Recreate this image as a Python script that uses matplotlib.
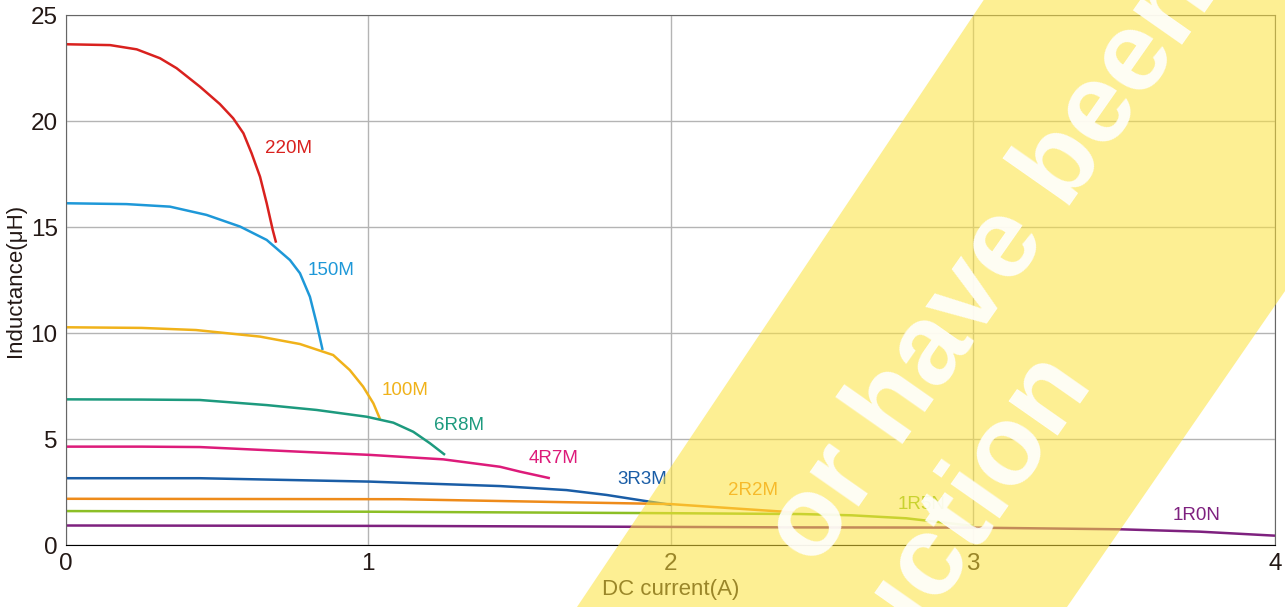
import matplotlib
matplotlib.use("Agg")
import matplotlib.pyplot as plt
from matplotlib.patches import Polygon

plt.rcParams["font.family"] = ["Liberation Sans", "DejaVu Sans"]

# inductance vs DC current
names = ["220M", "150M", "100M", "6R8M", "4R7M", "3R3M", "2R2M", "1R5N", "1R0N"]
colors = ["#D9211E", "#1E98D8", "#F0B21A", "#1D9A7E", "#DD1B7A",
          "#1A5DA6", "#EE8B1A", "#8CBF26", "#7E217F"]

x_220 = [0, 0.146, 0.234, 0.311, 0.366, 0.443, 0.509, 0.553, 0.587, 0.614,
         0.642, 0.664, 0.684, 0.695]
y_220 = [23.62, 23.58, 23.38, 22.96, 22.49, 21.62, 20.8, 20.13, 19.42, 18.48,
         17.37, 16.12, 14.86, 14.26]
x_150 = [0, 0.2, 0.344, 0.465, 0.576, 0.664, 0.741, 0.774, 0.807, 0.829, 0.849]
y_150 = [16.12, 16.08, 15.96, 15.57, 15.02, 14.39, 13.44, 12.82, 11.71, 10.46, 9.2]
x_100 = [0, 0.25, 0.43, 0.642, 0.774, 0.884, 0.939, 0.983, 1.017, 1.039]
y_100 = [10.27, 10.24, 10.14, 9.83, 9.48, 8.96, 8.25, 7.47, 6.68, 5.94]
x_6r8 = [0, 0.25, 0.443, 0.664, 0.829, 0.995, 1.083, 1.149, 1.204, 1.254]
y_6r8 = [6.87, 6.86, 6.84, 6.6, 6.37, 6.05, 5.77, 5.34, 4.8, 4.25]
x_4r7 = [0, 0.25, 0.443, 0.774, 1.006, 1.248, 1.436, 1.502, 1.601]
y_4r7 = [4.64, 4.64, 4.62, 4.4, 4.25, 4.04, 3.69, 3.46, 3.15]
x_3r3 = [0, 0.443, 1.006, 1.105, 1.436, 1.656, 1.789, 1.91, 2.003]
y_3r3 = [3.15, 3.15, 2.99, 2.94, 2.78, 2.59, 2.36, 2.09, 1.89]
x_2r2 = [0, 1.105, 2.0, 2.207, 2.406]
y_2r2 = [2.18, 2.16, 1.93, 1.73, 1.54]
x_1r5 = [0, 1.0, 2.0, 2.43, 2.6, 2.78, 3.0]
y_1r5 = [1.6, 1.57, 1.5, 1.46, 1.4, 1.26, 0.9]
x_1r0 = [0, 1.105, 2.43, 3.0, 3.49, 3.75, 4.0]
y_1r0 = [0.92, 0.9, 0.83, 0.82, 0.74, 0.63, 0.44]

xs = [x_220, x_150, x_100, x_6r8, x_4r7, x_3r3, x_2r2, x_1r5, x_1r0]
ys = [y_220, y_150, y_100, y_6r8, y_4r7, y_3r3, y_2r2, y_1r5, y_1r0]

label_x = [0.658, 0.80, 1.045, 1.217, 1.53, 1.823, 2.19, 2.75, 3.66]
label_y = [18.7, 12.97, 7.31, 5.66, 4.06, 3.07, 2.59, 1.89, 1.37]

xticks = [0, 1, 2, 3, 4]
yticks = [0, 5, 10, 15, 20, 25]

W, H = 1285, 607
fig = plt.figure(figsize=(W / 100, H / 100), dpi=100)
ax = fig.add_axes([66 / W, 1 - 545 / H, (1275 - 66) / W, (545 - 15) / H])

ink = "#231815"
for x, y, c in zip(xs, ys, colors):
    ax.plot(x, y, color=c, lw=1.8, solid_capstyle="butt", solid_joinstyle="round")
for n, lx, ly, c in zip(names, label_x, label_y, colors):
    ax.text(lx, ly, n, color=c, fontsize=13.5, ha="left", va="center")

ax.set_xlim(0, 4)
ax.set_ylim(0, 25)
ax.set_xticks(xticks)
ax.set_yticks(yticks)
ax.tick_params(length=0, labelsize=17.5, colors=ink, pad=6)
ax.grid(True, color="#b4b4b4", lw=1.0)
ax.set_axisbelow(True)
for s in ["top", "right", "left"]:
    ax.spines[s].set_color("#666666")
ax.spines["bottom"].set_color("black")
ax.set_xlabel("DC current(A)", fontsize=16, color=ink, labelpad=3)
ax.set_ylabel("Inductance(μH)", fontsize=16, color=ink, labelpad=3)


# yellow watermark band across the right part
def fpt(px, py):
    return (px / W, 1 - py / H)


band = Polygon([fpt(577 + 0.67 * 707, -100), fpt(1067 + 0.69 * 707, -100),
                fpt(1067 - 0.69 * 93, 700), fpt(577 - 0.67 * 93, 700)],
               closed=True, transform=fig.transFigure,
               facecolor="#FDE23A", edgecolor="none", alpha=0.55, zorder=10)
fig.add_artist(band)

t1 = fig.text(*fpt(1016.6, 282), "or have been", rotation=55,
              rotation_mode="anchor", ha="center", va="baseline",
              fontsize=82, fontweight="bold", color="white", alpha=0.9, zorder=11)
t2 = fig.text(*fpt(1091, 378.5), "production", rotation=55,
              rotation_mode="anchor", ha="right", va="baseline",
              fontsize=82, fontweight="bold", color="white", alpha=0.9, zorder=11)
t1.set_clip_path(band)
t2.set_clip_path(band)

fig.savefig("out.png", dpi=100)
